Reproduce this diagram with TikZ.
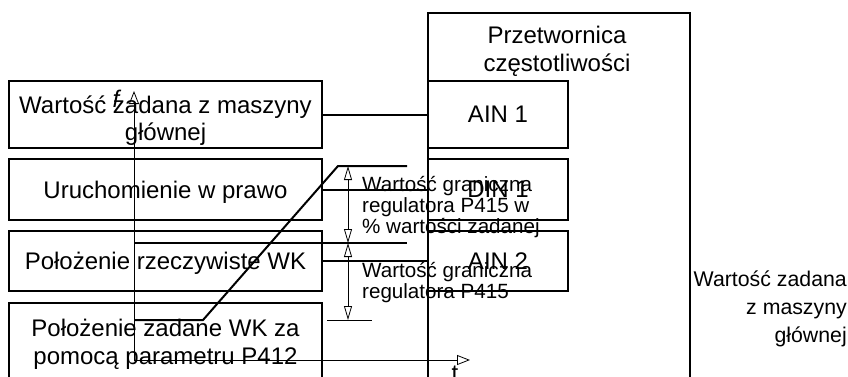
\documentclass[tikz,border=0pt]{standalone}
\usepackage{fontspec}
\setmainfont{Liberation Sans}
\usetikzlibrary{arrows.meta}
\tikzset{
  inbox/.style={draw,line width=2.5pt,minimum width=313pt,align=center,text depth=0pt,font=\fontsize{24}{27}\selectfont},
  portbox/.style={draw,line width=2.5pt,minimum width=140pt,font=\fontsize{24}{27}\selectfont},
  link/.style={line width=2pt},
  axis/.style={line width=0.8pt,-{Triangle[open,length=13pt,width=10pt]}},
  dimline/.style={line width=0.8pt,{Triangle[open,length=14pt,width=8pt]}-{Triangle[open,length=14pt,width=8pt]}},
  note/.style={inner sep=0pt,font=\fontsize{20.6}{21}\selectfont},
}

\begin{document}
\begin{tikzpicture}[x=1pt,y=-1pt]
        \clip (0,0) rectangle (848,376);

        \node[inbox,minimum height=67pt,text height=52pt] (setp) at (165.5,114.5) {Wartość zadana z maszyny\\głównej};
        \node[inbox,minimum height=61pt] (right) at (165.5,189.5) {Uruchomienie w prawo};
        \node[inbox,minimum height=60pt] (actual) at (165.5,261) {Położenie rzeczywiste WK};
        \node[inbox,minimum height=78pt,font=\fontsize{24}{28.5}\selectfont] (target) at (165.5,342) {Położenie zadane WK za\\pomocą parametru P412};

        \node[draw,line width=2.5pt,minimum width=262pt,minimum height=400pt] (conv) at (559,213) {};
        \node[align=center,font=\fontsize{24}{28}\selectfont] (convname) at (557,51) {Przetwornica\\częstotliwości};
        \node[portbox,minimum height=67pt] (ain1) at (498,114.5) {AIN 1};
        \node[portbox,minimum height=61pt] (din1) at (498,189.5) {DIN 1};
        \node[portbox,minimum height=60pt] (ain2) at (498,261) {AIN 2};

        \draw[link] (setp) -- (ain1);
        \draw[link] (right) -- (din1);
        \draw[link] (actual) -- (ain2);

        \coordinate (o) at (134,360);
        \coordinate (fend) at (134,91);
        \coordinate (tend) at (470,360);
        \draw[axis] (o) -- (fend);
        \draw[axis] (o) -- (tend);
        \node[font=\fontsize{24}{24}\selectfont\itshape] (flabel) at (116,99) {f};
        \node[inner sep=0pt,anchor=north,font=\fontsize{24}{24}\selectfont] (tlabel) at (455,366) {t};

        \coordinate (c0) at (134,320);
        \coordinate (c1) at (203,320);
        \coordinate (c2) at (338,166);
        \coordinate (c3) at (407,166);
        \draw[link] (c0) -- (c1) -- (c2) -- (c3);

        \coordinate (r0) at (134,243);
        \coordinate (r1) at (407,243);
        \draw[link] (r0) -- (r1);

        \coordinate (d1) at (348,166);
        \coordinate (d2) at (348,243);
        \coordinate (d3) at (348,320);
        \coordinate (k0) at (327,320);
        \coordinate (k1) at (372,320);
        \draw[dimline] (d1) -- (d2);
        \draw[dimline] (d2) -- (d3);
        \draw[line width=0.8pt] (k0) -- (k1);

        \node[note,anchor=west,align=left] (lim1) at (362,207) {Wartość graniczna\\regulatora P415 w\\\% wartości zadanej};
        \node[note,anchor=west,align=left] (lim2) at (362,282.5) {Wartość graniczna\\regulatora P415};
        \node[inner sep=0pt,anchor=east,align=right,font=\fontsize{21.3}{28}\selectfont] (settext) at (847,309) {Wartość zadana\\z maszyny\\głównej};
    \end{tikzpicture}
\end{document}
